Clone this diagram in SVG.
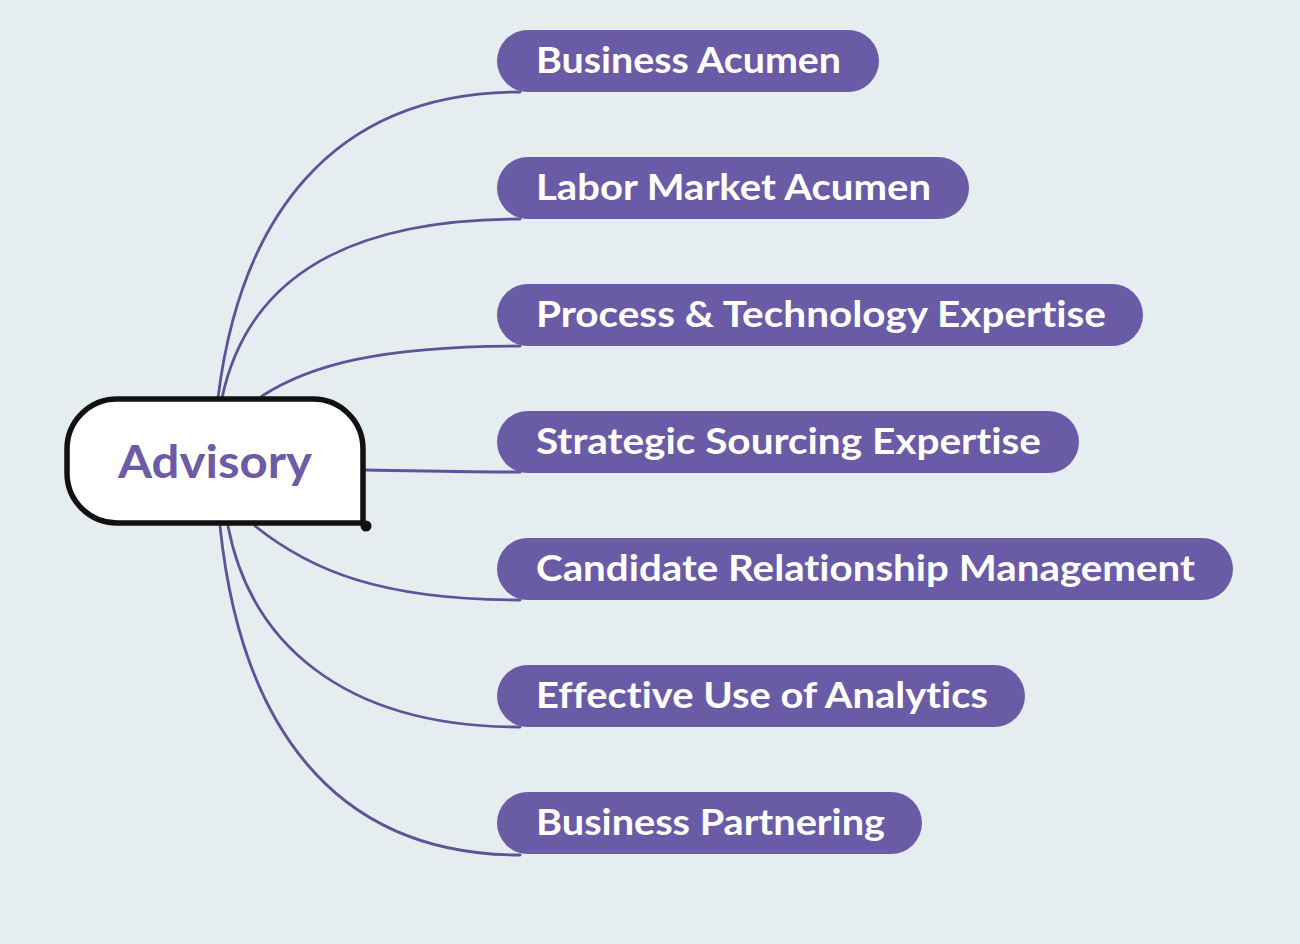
<svg xmlns="http://www.w3.org/2000/svg" width="1300" height="944" viewBox="0 0 1300 944">
<style>
.bg{fill:#e6edf1}
.conn{fill:none;stroke:#5d5399;stroke-width:2.8;stroke-linecap:round}
.pill{fill:#6a5ba7}
.pt{font-family:Lato,"Liberation Sans",sans-serif;font-weight:700;font-size:37px;fill:#ffffff;font-variant-ligatures:none}
.center{fill:#ffffff;stroke:#111111;stroke-width:5.5;stroke-linejoin:round}
.ct{font-family:Lato,"Liberation Sans",sans-serif;font-weight:700;font-size:46px;fill:#6b5ca5;font-variant-ligatures:none}
</style>
<rect class="bg" x="0" y="0" width="1300" height="944"/>
<g id="connectors">
<path class="conn" d="M218,398 C240,220 330,92 520,92"/>
<path class="conn" d="M222,398 C245,290 330,219 520,219"/>
<path class="conn" d="M262,396 C310,365 380,346 520,346"/>
<path class="conn" d="M366,470 C420,471 460,472 520,472"/>
<path class="conn" d="M255,526 C310,570 380,600 520,600"/>
<path class="conn" d="M228,526 C250,640 340,727 520,727"/>
<path class="conn" d="M220,526 C240,720 330,855 520,855"/>
</g>
<g id="advisory">
<path class="center" d="M363,523 L117,523 A50,50 0 0 1 67,473 L67,449 A50,50 0 0 1 117,399 L313,399 A50,50 0 0 1 363,449 Z"/>
<circle cx="366" cy="526" r="5.5" fill="#111111"/>
<text class="ct" x="118" y="478" textLength="194" lengthAdjust="spacingAndGlyphs">Advisory</text>
</g>
<g id="n1">
<rect class="pill" x="497" y="30" width="382" height="62" rx="31"/>
<text class="pt" x="536" y="73" textLength="305" lengthAdjust="spacingAndGlyphs">Business Acumen</text>
</g>
<g id="n2">
<rect class="pill" x="497" y="157" width="472" height="62" rx="31"/>
<text class="pt" x="536" y="200" textLength="395" lengthAdjust="spacingAndGlyphs">Labor Market Acumen</text>
</g>
<g id="n3">
<rect class="pill" x="497" y="284" width="646" height="62" rx="31"/>
<text class="pt" x="536" y="327" textLength="570" lengthAdjust="spacingAndGlyphs">Process &amp; Technology Expertise</text>
</g>
<g id="n4">
<rect class="pill" x="497" y="411" width="582" height="62" rx="31"/>
<text class="pt" x="536" y="454" textLength="505" lengthAdjust="spacingAndGlyphs">Strategic Sourcing Expertise</text>
</g>
<g id="n5">
<rect class="pill" x="497" y="538" width="736" height="62" rx="31"/>
<text class="pt" x="536" y="581" textLength="659" lengthAdjust="spacingAndGlyphs">Candidate Relationship Management</text>
</g>
<g id="n6">
<rect class="pill" x="497" y="665" width="528" height="62" rx="31"/>
<text class="pt" x="536" y="708" textLength="452" lengthAdjust="spacingAndGlyphs">Effective Use of Analytics</text>
</g>
<g id="n7">
<rect class="pill" x="497" y="792" width="425" height="62" rx="31"/>
<text class="pt" x="536" y="835" textLength="349" lengthAdjust="spacingAndGlyphs">Business Partnering</text>
</g>
</svg>
